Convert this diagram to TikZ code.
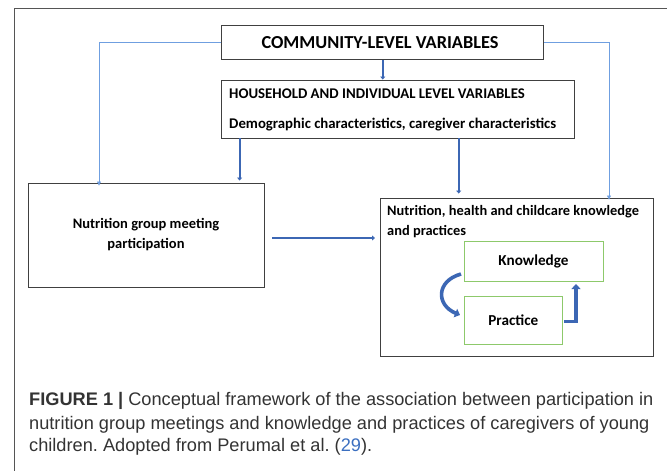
\documentclass[tikz,border=0pt]{standalone}
\usepackage{fontspec}
\setmainfont{Carlito}
\newfontfamily\capfont{Liberation Sans}
\usetikzlibrary{arrows.meta}
\definecolor{thinblue}{HTML}{6F9FE0}
\definecolor{thickblue}{HTML}{3C67B4}
\definecolor{boxgreen}{HTML}{8DC96B}
\definecolor{framegray}{HTML}{555555}
\definecolor{captext}{HTML}{333333}
\definecolor{citeblue}{HTML}{3B6FC0}
\frenchspacing
\tikzset{
  box/.style={draw=black!75, line width=0.9pt, fill=white, inner sep=0pt},
  gbox/.style={draw=boxgreen, line width=0.9pt, fill=white, inner sep=0pt},
  lbl/.style={font=\bfseries\fontsize{14.8}{16}\selectfont, inner sep=0pt},
  thinarrow/.style={draw=thinblue, line width=0.6pt, -{Triangle[length=4pt,width=4pt]}},
  thickarrow/.style={draw=thickblue, line width=2pt, -{Triangle[length=3pt,width=5pt]}},
  blockarrow/.style={draw=thickblue, line width=3.6pt, -{Triangle[length=5pt,width=9pt]}},
  captxt/.style={anchor=west, inner sep=0pt, text=captext, font=\capfont\fontsize{18.2}{21}\selectfont}
}
\begin{document}
\begin{tikzpicture}[x=1pt,y=-1pt]
\useasboundingbox (0,0) rectangle (667,471);
% frame
\draw[framegray, line width=1pt] (14,471) -- (14,8) -- (667,8);
% boxes
\node[box, minimum width=322pt, minimum height=34pt] (comm) at (382.75,42.3) {};
\node[lbl, font=\bfseries\fontsize{18.3}{20}\selectfont] (commtxt) at (380,43) {COMMUNITY-LEVEL VARIABLES};
\node[box, minimum width=353pt, minimum height=58pt] (hh) at (398,109) {};
\node[lbl, anchor=west] (hh1) at (229,94) {HOUSEHOLD AND INDIVIDUAL LEVEL VARIABLES};
\node[lbl, anchor=west] (hh2) at (229,125) {Demographic characteristics, caregiver characteristics};
\node[box, minimum width=236pt, minimum height=104pt] (ng) at (146,235) {};
\node[lbl, align=center, font=\bfseries\fontsize{14.5}{20}\selectfont] (ngtxt) at (146,235) {Nutrition group meeting\\participation};
\node[box, minimum width=273pt, minimum height=158pt] (rb) at (516.5,277) {};
\node[lbl, anchor=west, font=\bfseries\fontsize{14.4}{16}\selectfont] (rb1) at (387,212) {Nutrition, health and childcare knowledge};
\node[lbl, anchor=west, font=\bfseries\fontsize{14.4}{16}\selectfont] (rb2) at (387,232) {and practices};
\node[gbox, minimum width=139pt, minimum height=40pt, font=\bfseries\fontsize{15.2}{17}\selectfont] (kn) at (533.5,261) {Knowledge};
\node[gbox, minimum width=98.6pt, minimum height=48pt, font=\bfseries\fontsize{15.2}{17}\selectfont] (pr) at (513.3,320) {Practice};
% thin arrows
\draw[thinarrow] (comm.west) -| ([yshift=-3pt]ng.north -| 99,0);
\draw[thinarrow] (comm.east) -| ([yshift=-2pt]rb.north -| 609,0);
% thick arrows
\draw[thickarrow] (comm.south) -- (comm.south |- hh.north);
\draw[thickarrow, shorten >=2pt] (hh.south -| 239.6,0) -- (ng.north -| 239.6,0);
\draw[thickarrow, shorten >=4pt] (hh.south -| 458.7,0) -- (rb.north -| 458.7,0);
\coordinate (hs) at (272,238);
\coordinate (he) at (375,238);
\draw[thickarrow] (hs) -- (he);
% cycle arrows
\coordinate (c1) at (461,274);
\coordinate (c2) at (460,315);
\draw[blockarrow] (c1) .. controls (436,281) and (436,305) .. (c2);
\coordinate (e1) at (564,321.5);
\coordinate (e2) at (576,284);
\draw[blockarrow] (e1) -- (576,321.5) -- (e2);
% caption
\node[captxt] (cap1) at (29,401) {\textbf{FIGURE 1 |} Conceptual framework of the association between participation in};
\node[captxt] (cap2) at (29,425) {nutrition group meetings and knowledge and practices of caregivers of young};
\node[captxt] (cap3) at (29,447) {children. Adopted from Perumal et al. (\textcolor{citeblue}{29}).};
\end{tikzpicture}
\end{document}
